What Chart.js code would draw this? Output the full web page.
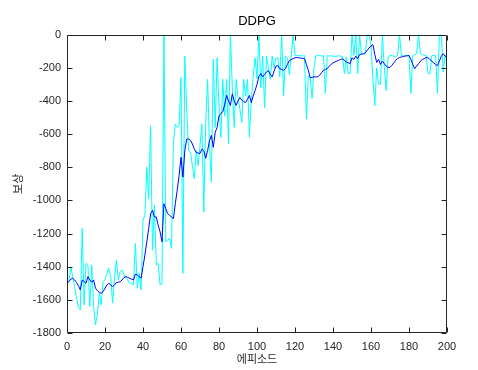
<!DOCTYPE html>
<html>
<head>
<meta charset="utf-8">
<title>DDPG</title>
<script src="https://cdn.jsdelivr.net/npm/chart.js@4/dist/chart.umd.min.js"></script>
<style>
    body { margin: 0; background: #ffffff; }
    canvas { display: block; }
</style>
</head>
<body>
<canvas id="rewardChart" width="478" height="370"></canvas>
<script>
// episode rewards (cyan) and smoothed average (blue), episodes 0..200
const episodeRewards = [
    -1500,
    -1490, -1400, -1460, -1520, -1590, -1640, -1660, -1170, -1630, -1380,
    -1390, -1640, -1390, -1640, -1750, -1690, -1560, -1630, -1490, -1480,
    -1440, -1410, -1460, -1620, -1470, -1360, -1480, -1430, -1420, -1450,
    -1470, -1480, -1500, -1500, -1510, -1260, -1530, -1440, -1540, -1120,
    -1090, -800, -990, -550, -1300, -1030, -1390, -1380, -1510, -1500,
    0, -1250, -1240, -1230, -1290, -650, -540, -560, -550, -260,
    -1440, -130, -450, -700, -710, -790, -870, -700, -790, -670,
    -540, -1070, -530, -270, -680, -890, -150, -560, -140, -430,
    -620, -270, -490, -270, -660, 0, -320, -560, -270, -380,
    -450, -530, -270, -370, -270, -620, -400, -250, -140, -265,
    0, -320, -130, -440, -130, -200, -270, -130, -200, -140,
    -140, -255, 0, -370, -130, -140, -240, -130, 0, -126,
    -126, -128, -126, -130, -126, -510, -250, -260, -385, -200,
    -126, -128, -126, -130, -126, -355, -126, -130, -128, -130,
    -132, -130, -128, -130, -132, -235, -135, -235, -235, 0,
    -126, 0, -235, 0, -115, -120, -115, 0, 0, -70,
    -265, -428, -200, -300, -300, 0, -200, -337, -135, -126,
    -126, -130, -135, -126, 0, -126, -128, -126, -126, -126,
    -355, -126, -120, -115, 0, -115, -120, -126, -126, -235,
    -235, -126, -126, -126, -355, 0, 0, -225, -126, -136
];

const averageRewards = [
    -1500,
    -1490, -1475, -1470, -1480, -1495, -1515, -1540, -1480, -1490, -1500,
    -1460, -1480, -1494, -1480, -1530, -1545, -1555, -1560, -1550, -1530,
    -1510, -1500, -1510, -1520, -1510, -1495, -1494, -1490, -1480, -1465,
    -1460, -1465, -1470, -1475, -1480, -1445, -1450, -1460, -1470, -1400,
    -1330, -1250, -1170, -1080, -1060, -1100, -1100, -1150, -1190, -1250,
    -1020, -1050, -1080, -1090, -1100, -1110, -1020, -940, -850, -740,
    -860, -700, -630, -630, -638, -660, -690, -710, -715, -717,
    -690, -700, -746, -700, -640, -608, -680, -590, -560, -490,
    -476, -466, -420, -367, -400, -427, -357, -400, -427, -400,
    -380, -395, -405, -410, -390, -367, -410, -370, -337, -300,
    -250, -235, -255, -240, -225, -217, -240, -255, -220, -190,
    -187, -205, -210, -215, -205, -180, -157, -150, -145, -140,
    -138, -140, -142, -143, -145, -180, -215, -260, -258, -255,
    -255, -255, -245, -230, -215, -210, -205, -190, -180, -170,
    -165, -160, -155, -150, -146, -155, -165, -170, -175, -140,
    -150, -130, -145, -120, -118, -115, -110, -95, -80, -70,
    -60, -120, -168, -150, -180, -160, -175, -190, -198, -198,
    -185, -170, -155, -145, -138, -135, -132, -130, -128, -126,
    -150, -180, -205, -190, -175, -160, -150, -145, -138, -140,
    -150, -160, -170, -180, -187, -160, -130, -115, -130, -138
];

const episodes = episodeRewards.map((v, i) => i);
const xTicks = [0, 20, 40, 60, 80, 100, 120, 140, 160, 180, 200];
const yTicks = [-1800, -1600, -1400, -1200, -1000, -800, -600, -400, -200, 0];

const axisColor = '#262626';
const fontFamily = 'Helvetica, Arial, "Liberation Sans", "Noto Sans CJK KR", sans-serif';

// MATLAB style box with inward ticks
const boxPlugin = {
    id: 'matlabBox',
    afterDatasetsDraw(chart) {
        const { ctx, chartArea, scales } = chart;
        const l = Math.round(chartArea.left) + 0.5;
        const r = Math.round(chartArea.right) - 0.5;
        const t = Math.round(chartArea.top) + 0.5;
        const b = Math.round(chartArea.bottom) - 0.5;
        const len = 5;
        ctx.save();
        ctx.strokeStyle = axisColor;
        ctx.lineWidth = 1;
        ctx.beginPath();
        ctx.rect(l, t, r - l, b - t);
        xTicks.forEach(v => {
            const x = Math.round(scales.x.getPixelForValue(v)) + 0.5;
            ctx.moveTo(x, b); ctx.lineTo(x, b - len);
            ctx.moveTo(x, t); ctx.lineTo(x, t + len);
        });
        yTicks.forEach(v => {
            const y = Math.round(scales.y.getPixelForValue(v)) + 0.5;
            ctx.moveTo(l, y); ctx.lineTo(l + len, y);
            ctx.moveTo(r, y); ctx.lineTo(r - len, y);
        });
        ctx.stroke();
        ctx.restore();
    }
};

const ctx = document.getElementById('rewardChart').getContext('2d');
new Chart(ctx, {
    type: 'line',
    data: {
        datasets: [
            {
                label: 'average',
                data: episodes.map((e, i) => ({ x: e, y: averageRewards[i] })),
                borderColor: '#0000ff',
                borderWidth: 1,
                pointRadius: 0,
                tension: 0,
                order: 0
            },
            {
                label: 'reward',
                data: episodes.map((e, i) => ({ x: e, y: episodeRewards[i] })),
                borderColor: '#00ffff',
                borderWidth: 1,
                pointRadius: 0,
                tension: 0,
                order: 1
            }
        ]
    },
    options: {
        responsive: false,
        animation: false,
        layout: { padding: { left: 0, right: 31, top: 0, bottom: 0 } },
        plugins: {
            legend: { display: false },
            tooltip: { enabled: false },
            title: {
                display: true,
                text: 'DDPG',
                fullSize: false,
                color: '#000000',
                font: { family: fontFamily, size: 13, weight: 'normal' },
                padding: { top: 14, bottom: 5 }
            }
        },
        scales: {
            x: {
                type: 'linear',
                min: 0,
                max: 200,
                afterBuildTicks: scale => { scale.ticks = xTicks.map(v => ({ value: v })); },
                afterFit: scale => { scale.height = 37; },
                grid: { display: false, drawTicks: false },
                border: { display: false },
                ticks: {
                    color: axisColor,
                    padding: 7,
                    maxRotation: 0,
                    callback: v => String(v),
                    font: { family: fontFamily, size: 11 }
                },
                title: {
                    display: true,
                    text: '에피소드',
                    color: axisColor,
                    font: { family: fontFamily, size: 11 },
                    padding: { top: 0, bottom: 3 }
                }
            },
            y: {
                min: -1800,
                max: 0,
                afterBuildTicks: scale => { scale.ticks = yTicks.map(v => ({ value: v })); },
                afterFit: scale => { scale.width = 67; },
                grid: { display: false, drawTicks: false },
                border: { display: false },
                ticks: {
                    color: axisColor,
                    padding: 6,
                    callback: v => String(v),
                    font: { family: fontFamily, size: 11 }
                },
                title: {
                    display: true,
                    text: '보상',
                    color: axisColor,
                    font: { family: fontFamily, size: 11 },
                    padding: { top: 12, bottom: 0 }
                }
            }
        }
    },
    plugins: [boxPlugin]
});
</script>
</body>
</html>
